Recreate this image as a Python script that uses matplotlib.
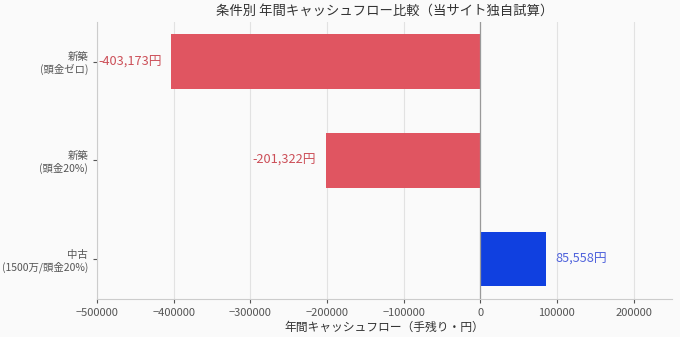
import matplotlib
matplotlib.use("Agg")
import matplotlib.pyplot as plt

plt.rcParams["font.family"] = ["Noto Sans CJK JP", "DejaVu Sans"]
plt.rcParams["axes.unicode_minus"] = True

categories = ["新築\n(頭金ゼロ)", "新築\n(頭金20%)", "中古\n(1500万/頭金20%)"]
values = [-403173, -201322, 85558]
bar_colors = ["#e05561", "#e05561", "#1040e0"]
label_colors = ["#cc4f58", "#cc4f58", "#4f62dc"]

fig, ax = plt.subplots(figsize=(6.8, 3.37), dpi=100)
fig.patch.set_facecolor("#fafafa")
ax.set_facecolor("#fafafa")

y = range(len(categories))
ax.barh(y, values, height=0.55, color=bar_colors, zorder=3)
ax.set_yticks(list(y))
ax.set_yticklabels(categories, fontsize=7.5, color="#555555")
ax.invert_yaxis()

for i, v in enumerate(values):
    if v < 0:
        ax.annotate(f"{v:,}円", (v, i), xytext=(-7, 0), textcoords="offset points",
                    ha="right", va="center", fontsize=9.2, color=label_colors[i])
    else:
        ax.annotate(f"{v:,}円", (v, i), xytext=(7, 0), textcoords="offset points",
                    ha="left", va="center", fontsize=9.2, color=label_colors[i])

ax.axvline(0, color="#999999", lw=0.9, zorder=4)
ax.set_xlim(-500000, 250000)
ax.set_xticks([-500000, -400000, -300000, -200000, -100000, 0, 100000, 200000])
ax.tick_params(axis="x", labelsize=8, colors="#555555", length=3)
ax.tick_params(axis="y", length=3, colors="#555555")
ax.grid(axis="x", color="#e2e2e2", lw=0.8, zorder=0)
for s in ["top", "right"]:
    ax.spines[s].set_visible(False)
ax.spines["left"].set_color("#cccccc")
ax.spines["bottom"].set_color("#cccccc")
ax.set_xlabel("年間キャッシュフロー（手残り・円）", fontsize=8.5, color="#333333", labelpad=2)
ax.set_title("条件別 年間キャッシュフロー比較（当サイト独自試算）", fontsize=9.6, color="#333333", pad=5)

fig.subplots_adjust(left=0.143, right=0.988, top=0.935, bottom=0.113)
fig.savefig("out.png", dpi=100, facecolor=fig.get_facecolor())
